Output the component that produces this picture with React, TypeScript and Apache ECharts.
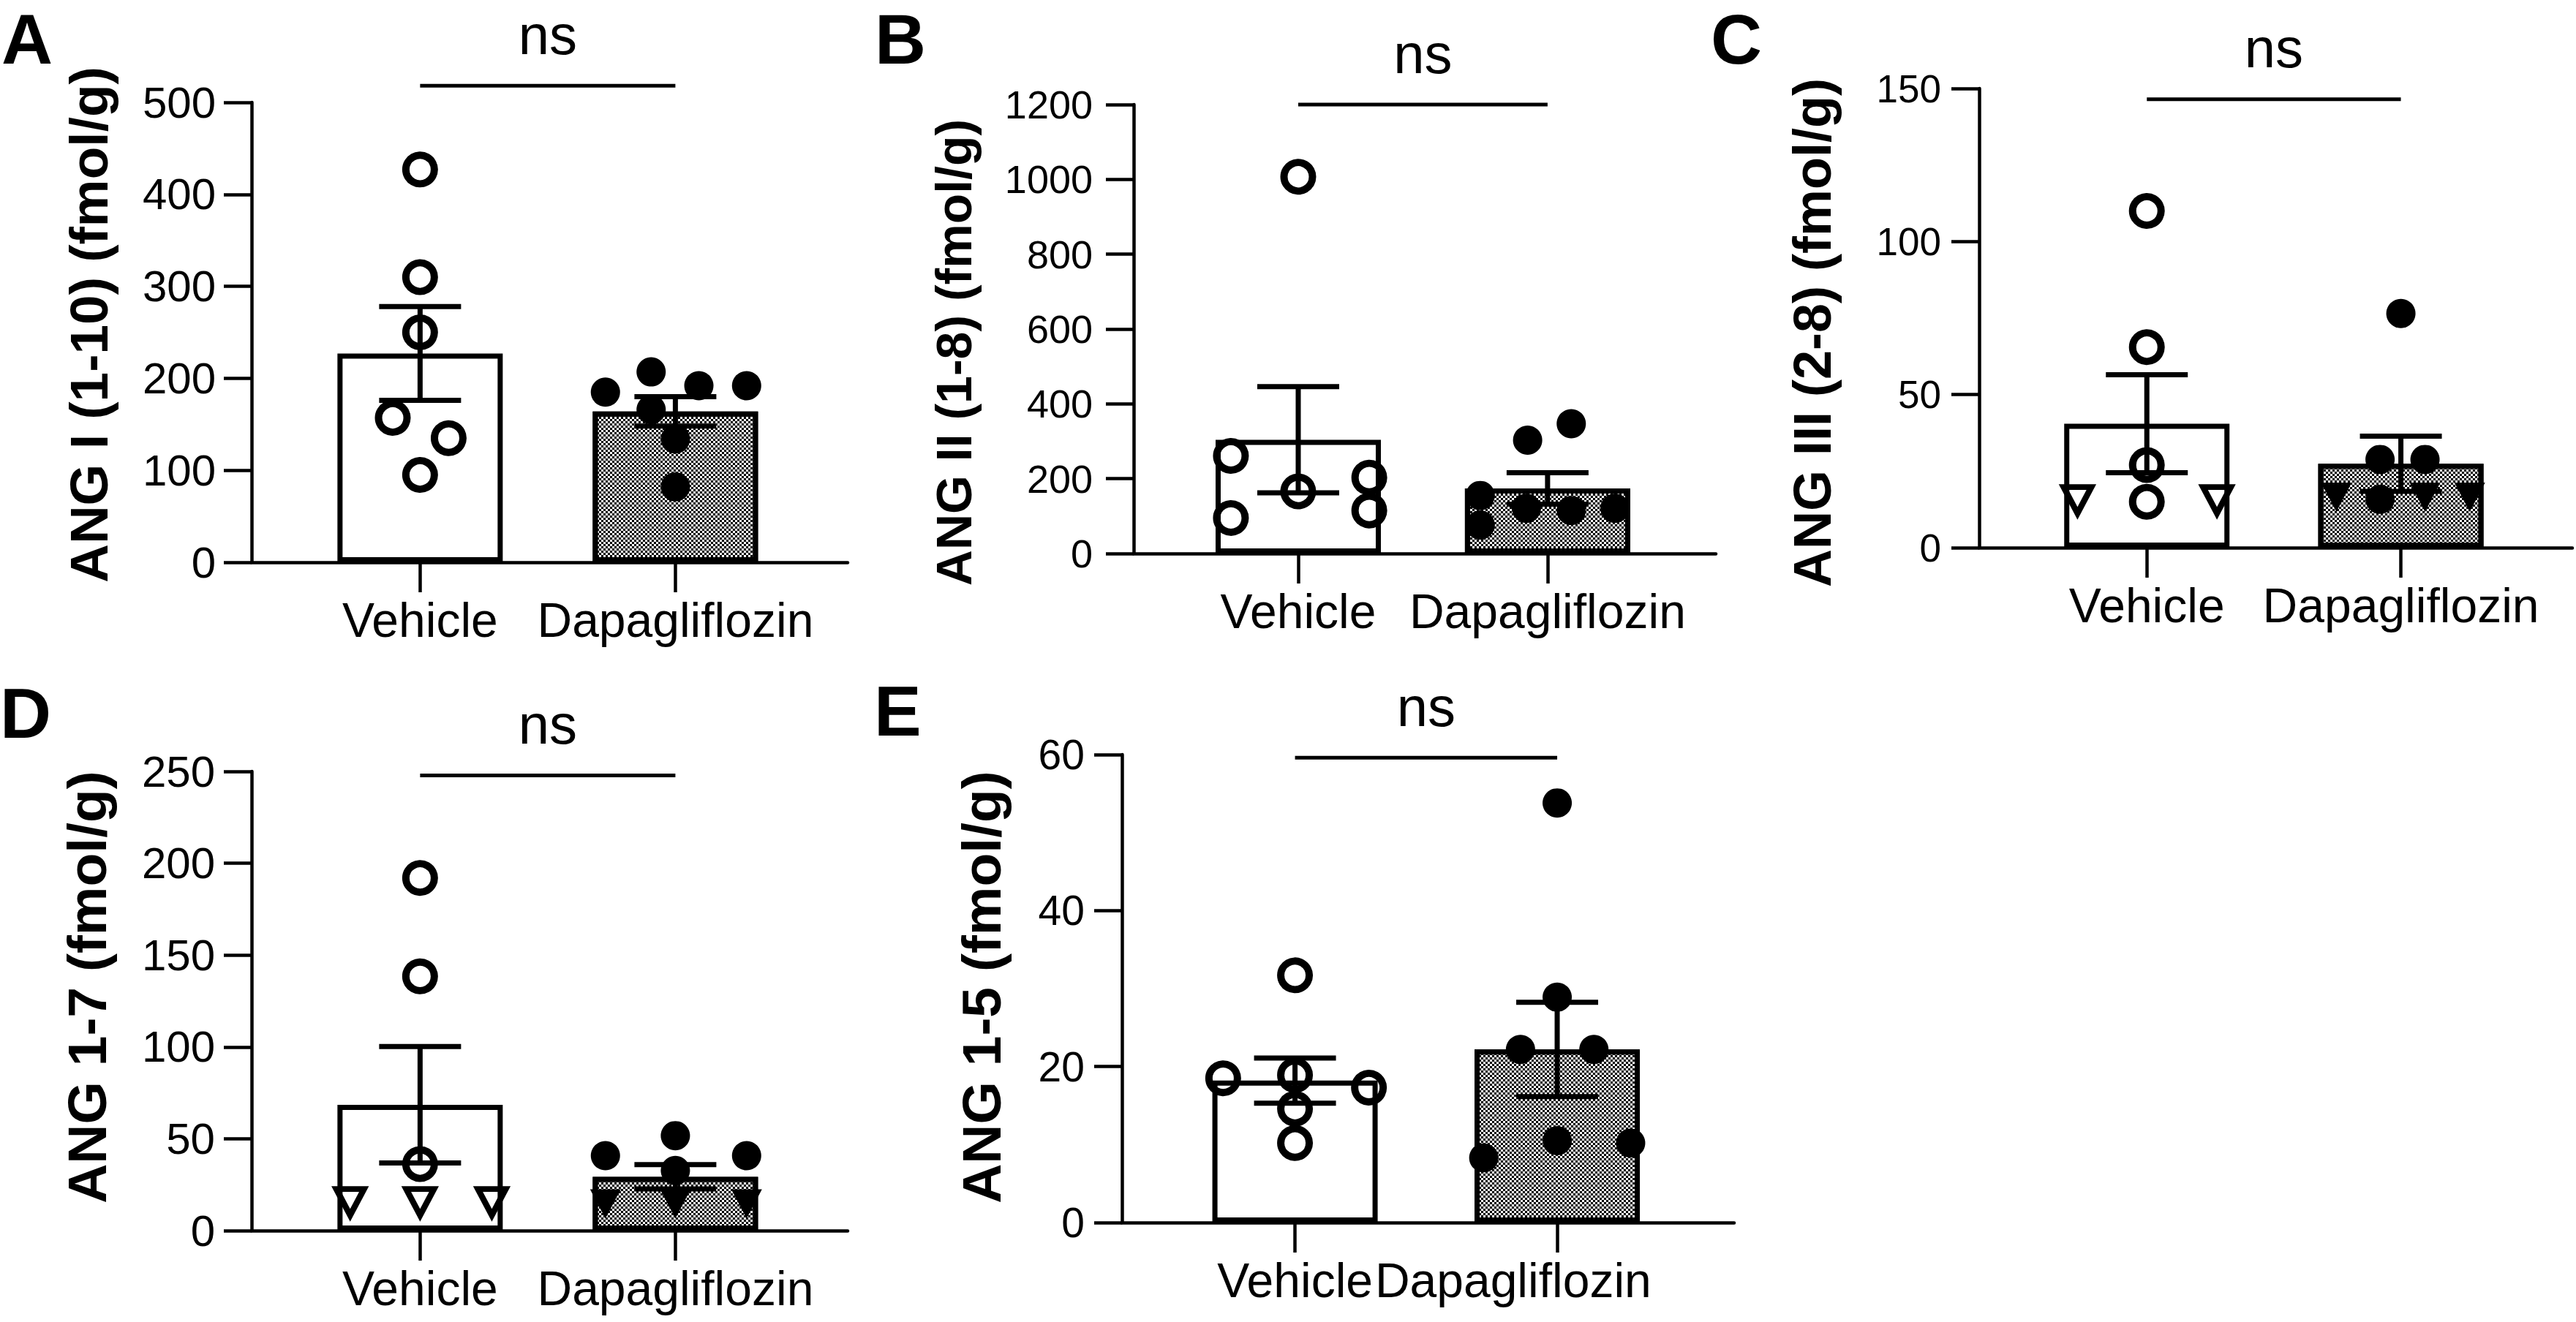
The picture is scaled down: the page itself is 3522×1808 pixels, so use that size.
import React, { useEffect, useRef } from "react";
import * as echarts from "echarts";

const FONT = "'Liberation Sans', Arial, Helvetica, sans-serif";

const categories = ["Vehicle", "Dapagliflozin"];
const sigLabel = "ns";

// ---------- Panel A : ANG I (1-10)
const aTitle = "ANG I (1-10) (fmol/g)";
const aTicks = [0, 100, 200, 300, 400, 500];
const aVehicleValues = [427, 310, 250, 157, 135, 95];
const aVehicleJitter = [0, 0, 0, -0.107, 0.112, 0];
const aVehicleShapes = ["c", "c", "c", "c", "c", "c"];
const aDapaValues = [185, 207, 192, 192, 166, 134, 82];
const aDapaJitter = [-0.274, -0.095, 0.092, 0.279, -0.095, 0, 0];
const aDapaShapes = ["c", "c", "c", "c", "c", "c", "c"];
const aMeans = [227, 164];
const aSem = [51, 16];
const aSigY = 518;

// ---------- Panel B : ANG II (1-8)
const bTitle = "ANG II (1-8) (fmol/g)";
const bTicks = [0, 200, 400, 600, 800, 1000, 1200];
const bVehicleValues = [1007, 261, 95, 166, 203, 115];
const bVehicleJitter = [0, -0.27, -0.27, 0, 0.285, 0.285];
const bVehicleShapes = ["c", "c", "c", "c", "c", "c"];
const bDapaValues = [303, 347, 155, 76, 121, 115, 121];
const bDapaJitter = [-0.08, 0.095, -0.27, -0.27, -0.085, 0.095, 0.27];
const bDapaShapes = ["c", "c", "c", "c", "c", "c", "c"];
const bMeans = [304, 174];
const bSem = [142, 42];
const bSigY = 1200;

// ---------- Panel C : ANG III (2-8)
const cTitle = "ANG III (2-8) (fmol/g)";
const cTicks = [0, 50, 100, 150];
const cVehicleValues = [110, 65.5, 27, 15, 15.5, 15.5];
const cVehicleJitter = [0, 0, 0, 0, -0.273, 0.276];
const cVehicleShapes = ["c", "c", "c", "c", "t", "t"];
const cDapaValues = [76.5, 28.8, 28.8, 15.8, 16.5, 16.5, 16.5];
const cDapaJitter = [0, -0.082, 0.095, -0.082, -0.254, 0.095, 0.271];
const cDapaShapes = ["c", "c", "c", "c", "t", "t", "t"];
const cMeans = [40.5, 27.4];
const cSem = [16, 9];
const cSigY = 146.5;

// ---------- Panel D : ANG 1-7
const dTitle = "ANG 1-7 (fmol/g)";
const dTicks = [0, 50, 100, 150, 200, 250];
const dVehicleValues = [192, 138.4, 36.2, 15.5, 15.5, 15.5];
const dVehicleJitter = [0, 0, 0, -0.274, 0, 0.281];
const dVehicleShapes = ["c", "c", "c", "t", "t", "t"];
const dDapaValues = [40.8, 51.7, 40.8, 32.7, 14.5, 14.5, 14.5];
const dDapaJitter = [-0.274, 0, 0.279, 0, -0.274, 0, 0.279];
const dDapaShapes = ["c", "c", "c", "c", "t", "t", "t"];
const dMeans = [68.5, 29.3];
const dSem = [31.7, 6.6];
const dSigY = 247.8;

// ---------- Panel E : ANG 1-5
const eTitle = "ANG 1-5 (fmol/g)";
const eTicks = [0, 20, 40, 60];
const eVehicleValues = [31.7, 18.5, 18.9, 17.3, 14.6, 10.2];
const eVehicleJitter = [0, -0.274, 0, 0.282, 0, 0];
const eVehicleShapes = ["c", "c", "c", "c", "c", "c"];
const eDapaValues = [53.8, 28.9, 22.2, 22.2, 10.5, 8.3, 10.2];
const eDapaJitter = [0, 0, -0.14, 0.14, 0, -0.28, 0.28];
const eDapaShapes = ["c", "c", "c", "c", "c", "c", "c"];
const eMeans = [18.2, 22.2];
const eSem = [2.9, 6.05];
const eSigY = 59.6;

const panelData = [
  { letter: "A", title: aTitle, ticks: aTicks, vv: aVehicleValues, vj: aVehicleJitter, vs: aVehicleShapes, dv: aDapaValues, dj: aDapaJitter, ds: aDapaShapes, means: aMeans, sem: aSem, sigY: aSigY, labelPos: [1, 2] },
  { letter: "B", title: bTitle, ticks: bTicks, vv: bVehicleValues, vj: bVehicleJitter, vs: bVehicleShapes, dv: bDapaValues, dj: bDapaJitter, ds: bDapaShapes, means: bMeans, sem: bSem, sigY: bSigY, labelPos: [1, 2] },
  { letter: "C", title: cTitle, ticks: cTicks, vv: cVehicleValues, vj: cVehicleJitter, vs: cVehicleShapes, dv: cDapaValues, dj: cDapaJitter, ds: cDapaShapes, means: cMeans, sem: cSem, sigY: cSigY, labelPos: [1, 2] },
  { letter: "D", title: dTitle, ticks: dTicks, vv: dVehicleValues, vj: dVehicleJitter, vs: dVehicleShapes, dv: dDapaValues, dj: dDapaJitter, ds: dDapaShapes, means: dMeans, sem: dSem, sigY: dSigY, labelPos: [1, 2] },
  { letter: "E", title: eTitle, ticks: eTicks, vv: eVehicleValues, vj: eVehicleJitter, vs: eVehicleShapes, dv: eDapaValues, dj: eDapaJitter, ds: eDapaShapes, means: eMeans, sem: eSem, sigY: eSigY, labelPos: [1, 1.832] },
];

// layout (pixels) per panel
const layouts = [
  { left: 344, top: 140, width: 815, height: 629, titleSize: 73, titleX: 121, titleY: 444, tickFont: 60, tickMargin: 49, letterX: 2, letterY: 5 },
  { left: 1550, top: 143, width: 796, height: 614, titleSize: 68, titleX: 1304, titleY: 482, tickFont: 54, tickMargin: 56, letterX: 1196, letterY: 5 },
  { left: 2706, top: 121, width: 811, height: 628, titleSize: 72, titleX: 2478, titleY: 455, tickFont: 53, tickMargin: 52, letterX: 2339, letterY: 5 },
  { left: 344, top: 1055, width: 815, height: 628, titleSize: 75, titleX: 119, titleY: 1350, tickFont: 60, tickMargin: 50, letterX: 0, letterY: 927 },
  { left: 1534, top: 1032, width: 837, height: 640, titleSize: 75, titleX: 1342, titleY: 1350, tickFont: 57, tickMargin: 51, letterX: 1195, letterY: 924 },
];

const X_MIN = 0.34;
const X_MAX = 2.675;
const AXIS_W = 4.5;
const BAR_W = 226;
const BAR_BORDER = 7;
const ERR_W = 7;
const CAP_HALF = 56;

const checkerDecal = {
  symbol: "rect",
  symbolSize: 1,
  color: "#000",
  dashArrayX: [
    [3, 3],
    [0, 3, 3, 0],
  ],
  dashArrayY: [3, 0],
  rotation: 0,
};

function buildOption() {
  const grid: any[] = [];
  const xAxis: any[] = [];
  const yAxis: any[] = [];
  const series: any[] = [];
  const graphic: any[] = [];

  panelData.forEach((p, i) => {
    const L = layouts[i];
    grid.push({ left: L.left, top: L.top, width: L.width, height: L.height, containLabel: false });

    xAxis.push({
      type: "value",
      gridIndex: i,
      min: X_MIN,
      max: X_MAX,
      axisLine: { show: true, onZero: false, lineStyle: { color: "#000", width: AXIS_W } },
      axisTick: { show: true, customValues: [1, 2], length: 41, lineStyle: { color: "#000", width: AXIS_W } },
      axisLabel: {
        show: true,
        customValues: p.labelPos,
        formatter: (v: number) => (v < 1.5 ? categories[0] : categories[1]),
        color: "#000",
        fontFamily: FONT,
        fontSize: 66,
        margin: 46,
      },
      splitLine: { show: false },
    });

    yAxis.push({
      type: "value",
      gridIndex: i,
      min: p.ticks[0],
      max: p.ticks[p.ticks.length - 1],
      interval: p.ticks[1] - p.ticks[0],
      axisLine: { show: true, lineStyle: { color: "#000", width: AXIS_W } },
      axisTick: { show: true, length: 38, lineStyle: { color: "#000", width: AXIS_W } },
      axisLabel: {
        color: "#000",
        fontFamily: FONT,
        fontSize: L.tickFont,
        margin: L.tickMargin,
        formatter: (v: number) => String(v),
      },
      splitLine: { show: false },
    });

    // bars (means)
    series.push({
      type: "bar",
      xAxisIndex: i,
      yAxisIndex: i,
      barWidth: BAR_W,
      z: 2,
      data: [
        { value: [1, p.means[0]], itemStyle: { color: "#fff", borderColor: "#000", borderWidth: BAR_BORDER } },
        { value: [2, p.means[1]], itemStyle: { color: "#fff", borderColor: "#000", borderWidth: BAR_BORDER, decal: checkerDecal } },
      ],
    });

    const pts = (vals: number[], jit: number[], shapes: string[], base: number, shape: string) =>
      vals.map((v, k) => ({ v, k })).filter((o) => shapes[o.k] === shape).map((o) => [base + jit[o.k], o.v]);

    // vehicle hollow circles
    series.push({
      type: "scatter", xAxisIndex: i, yAxisIndex: i, z: 3,
      symbol: "circle", symbolSize: 39,
      itemStyle: { color: "rgba(0,0,0,0)", borderColor: "#000", borderWidth: 10, opacity: 1 },
      data: pts(p.vv, p.vj, p.vs, 1, "c"),
    });
    // vehicle hollow triangles
    series.push({
      type: "scatter", xAxisIndex: i, yAxisIndex: i, z: 3,
      symbol: "triangle", symbolRotate: 180, symbolSize: [38, 36],
      itemStyle: { color: "rgba(0,0,0,0)", borderColor: "#000", borderWidth: 8, opacity: 1 },
      data: pts(p.vv, p.vj, p.vs, 1, "t"),
    });
    // dapagliflozin filled circles
    series.push({
      type: "scatter", xAxisIndex: i, yAxisIndex: i, z: 3,
      symbol: "circle", symbolSize: 40,
      itemStyle: { color: "#000", opacity: 1 },
      data: pts(p.dv, p.dj, p.ds, 2, "c"),
    });
    // dapagliflozin filled triangles
    series.push({
      type: "scatter", xAxisIndex: i, yAxisIndex: i, z: 3,
      symbol: "triangle", symbolRotate: 180, symbolSize: [42, 40],
      itemStyle: { color: "#000", opacity: 1 },
      data: pts(p.dv, p.dj, p.ds, 2, "t"),
    });

    // error bars (mean ± SEM)
    series.push({
      type: "custom",
      xAxisIndex: i,
      yAxisIndex: i,
      z: 4,
      clip: false,
      encode: { x: 0, y: 1 },
      data: [
        [1, p.means[0], p.sem[0]],
        [2, p.means[1], p.sem[1]],
      ],
      renderItem: (params: any, api: any) => {
        const x = api.value(0);
        const m = api.value(1);
        const s = api.value(2);
        const top = api.coord([x, m + s]);
        const bot = api.coord([x, m - s]);
        const st = { stroke: "#000", lineWidth: ERR_W, fill: null };
        return {
          type: "group",
          children: [
            { type: "line", shape: { x1: top[0], y1: top[1], x2: bot[0], y2: bot[1] }, style: st },
            { type: "line", shape: { x1: top[0] - CAP_HALF, y1: top[1], x2: top[0] + CAP_HALF, y2: top[1] }, style: st },
            { type: "line", shape: { x1: bot[0] - CAP_HALF, y1: bot[1], x2: bot[0] + CAP_HALF, y2: bot[1] }, style: st },
          ],
        };
      },
    });

    // significance line + label
    series.push({
      type: "custom",
      xAxisIndex: i,
      yAxisIndex: i,
      z: 4,
      clip: false,
      encode: { x: [0, 1], y: 2 },
      data: [[1, 2, p.sigY]],
      renderItem: (params: any, api: any) => {
        const a = api.coord([api.value(0), api.value(2)]);
        const b = api.coord([api.value(1), api.value(2)]);
        return {
          type: "group",
          children: [
            { type: "line", shape: { x1: a[0], y1: a[1], x2: b[0], y2: b[1] }, style: { stroke: "#000", lineWidth: 5 } },
            {
              type: "text",
              x: (a[0] + b[0]) / 2,
              y: a[1] - 40,
              style: {
                text: sigLabel,
                fill: "#000",
                fontSize: 76,
                lineHeight: 60,
                fontFamily: FONT,
                textAlign: "center",
                textVerticalAlign: "bottom",
                align: "center",
                verticalAlign: "bottom",
              },
            },
          ],
        };
      },
    });

    // panel letter
    graphic.push({
      type: "text",
      left: L.letterX,
      top: L.letterY,
      style: { text: p.letter, fill: "#000", fontSize: 97, fontWeight: "bold", fontFamily: FONT },
    });

    // y-axis title (rotated)
    graphic.push({
      type: "text",
      x: L.titleX,
      y: L.titleY,
      rotation: Math.PI / 2,
      style: {
        text: p.title,
        fill: "#000",
        fontSize: L.titleSize,
        fontWeight: "bold",
        fontFamily: FONT,
        textAlign: "center",
        textVerticalAlign: "middle",
        align: "center",
        verticalAlign: "middle",
      },
    });
  });

  return {
    animation: false,
    backgroundColor: "#fff",
    grid,
    xAxis,
    yAxis,
    series,
    graphic,
  };
}

export default function App() {
  const ref = useRef<HTMLDivElement | null>(null);
  useEffect(() => {
    if (!ref.current) return;
    const chart = echarts.init(ref.current, null, { renderer: "svg" });
    chart.setOption(buildOption() as any);
    return () => chart.dispose();
  }, []);
  return (
    <div
      ref={ref}
      style={{ position: "fixed", left: 0, top: 0, width: 3522, height: 1808, background: "#fff" }}
    />
  );
}
